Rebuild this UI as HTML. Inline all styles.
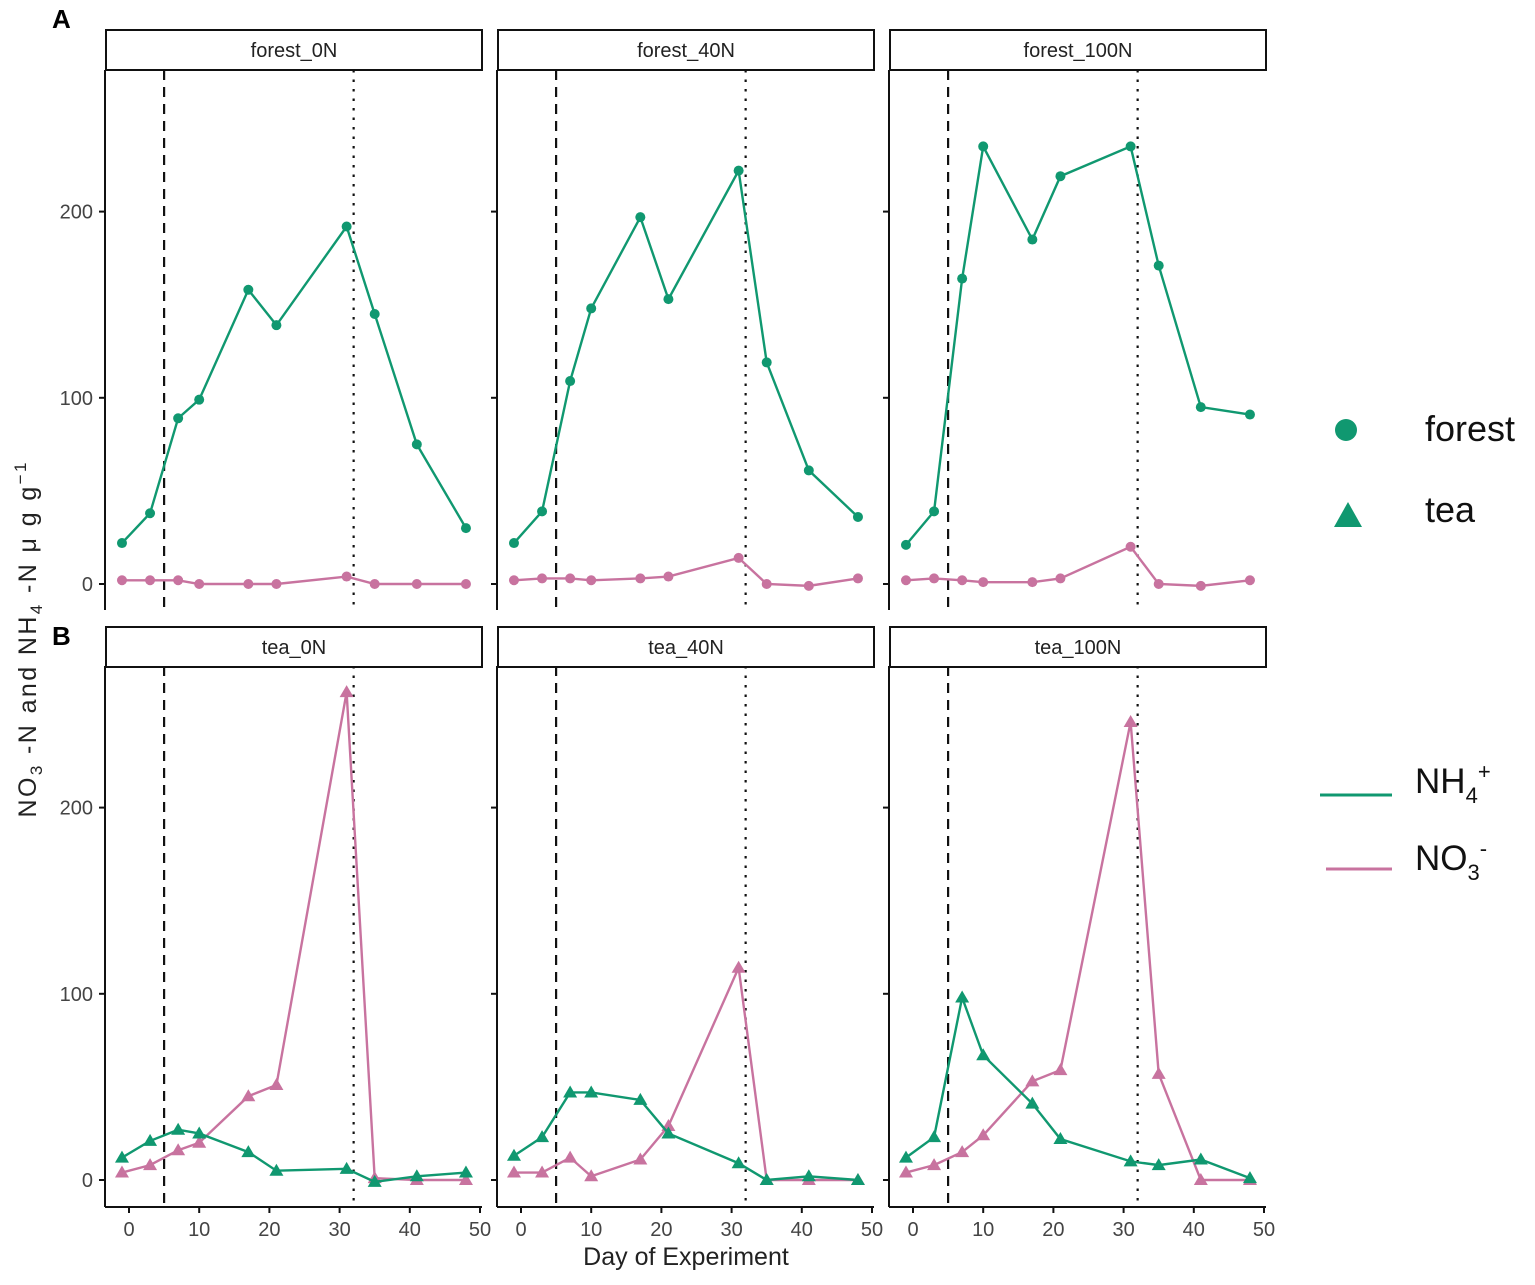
<!DOCTYPE html>
<html><head><meta charset="utf-8"><style>
body{margin:0;background:#fff}
svg{font-family:"Liberation Sans",Arial,sans-serif}
</style></head><body>
<svg id="s" width="1535" height="1280" xmlns="http://www.w3.org/2000/svg">
<rect width="1535" height="1280" fill="#fff"/>
<text x="52" y="28" font-size="26" font-weight="bold">A</text>
<text x="52" y="645" font-size="26" font-weight="bold">B</text>
<text x="686" y="1265" font-size="25" text-anchor="middle" fill="#222">Day of Experiment</text>
<g transform="translate(36,640) rotate(-90)" font-size="25" fill="#222">
<text text-anchor="middle" textLength="355" lengthAdjust="spacing">NO<tspan font-size="17" dy="6">3</tspan><tspan dy="-6"> -N and  NH</tspan><tspan font-size="17" dy="6">4</tspan><tspan dy="-6"> -N   μ g  g</tspan><tspan font-size="17" dy="-10">−1</tspan></text>
</g>
<circle cx="1346" cy="430" r="11" fill="#109870"/>
<text x="1425" y="441" font-size="36" fill="#111">forest</text>
<polygon points="1348,502 1334,527 1362,527" fill="#109870"/>
<text x="1425" y="522" font-size="36" fill="#111">tea</text>
<line x1="1320" y1="795" x2="1392" y2="795" stroke="#109870" stroke-width="3"/>
<text x="1415" y="793" font-size="35" fill="#111">NH<tspan font-size="22" dy="10">4</tspan><tspan font-size="22" dy="-24">+</tspan></text>
<line x1="1326" y1="869" x2="1392" y2="869" stroke="#c8739f" stroke-width="3"/>
<text x="1415" y="870" font-size="35" fill="#111">NO<tspan font-size="22" dy="10">3</tspan><tspan font-size="22" dy="-24">-</tspan></text>
<g id="g"></g>
</svg>
<script>
const G=document.getElementById('g');let h='';
const days=[-1,3,7,10,17,21,31,35,41,48];
const GR='#109870',PK='#c8739f';
const data=[
 ['forest_0N',[22,38,89,99,158,139,192,145,75,30],[2,2,2,0,0,0,4,0,0,0]],
 ['forest_40N',[22,39,109,148,197,153,222,119,61,36],[2,3,3,2,3,4,14,0,-1,3]],
 ['forest_100N',[21,39,164,235,185,219,235,171,95,91],[2,3,2,1,1,3,20,0,-1,2]],
 ['tea_0N',[12,21,27,25,15,5,6,-1,2,4],[4,8,16,20,45,51,262,1,0,0]],
 ['tea_40N',[13,23,47,47,43,25,9,0,2,0],[4,4,12,2,11,29,114,0,0,0]],
 ['tea_100N',[12,23,98,67,41,22,10,8,11,1],[4,8,15,24,53,59,246,57,0,0]]];
data.forEach((d,i)=>{
 const col=i%3,row=Math.floor(i/3),off=col*392;
 const stripY=row?627:30, top=row?666:70, bot=row?1207:610, y0=row?1180:584, k=1.862;
 const X=t=>129+off+t*7.02, Y=v=>y0-v*k;
 h+=`<rect x="${106+off}" y="${stripY}" width="376" height="40" fill="#fff" stroke="#111" stroke-width="2"/>`;
 h+=`<text x="${294+off}" y="${stripY+27}" font-size="20" text-anchor="middle" fill="#222">${d[0]}</text>`;
 h+=`<line x1="${105+off}" y1="${top}" x2="${105+off}" y2="${bot}" stroke="#111" stroke-width="2"/>`;
 if(col==0){[0,100,200].forEach(v=>{h+=`<line x1="99" x2="105" y1="${Y(v)}" y2="${Y(v)}" stroke="#111" stroke-width="2"/><text x="93" y="${Y(v)+7}" font-size="20" text-anchor="end" fill="#444">${v}</text>`;});}
 else {[0,100,200].forEach(v=>{h+=`<line x1="${99+off}" x2="${105+off}" y1="${Y(v)}" y2="${Y(v)}" stroke="#111" stroke-width="2"/>`;});}
 if(row==1){h+=`<line x1="${105+off}" y1="${bot}" x2="${482+off}" y2="${bot}" stroke="#111" stroke-width="2"/>`;
  [0,10,20,30,40,50].forEach(t=>{h+=`<line x1="${X(t)}" x2="${X(t)}" y1="${bot}" y2="${bot+6}" stroke="#111" stroke-width="2"/><text x="${X(t)}" y="${bot+29}" font-size="20" text-anchor="middle" fill="#444">${t}</text>`;});}
 h+=`<line x1="${X(5)}" x2="${X(5)}" y1="${top}" y2="${bot}" stroke="#111" stroke-width="2.2" stroke-dasharray="10,7"/>`;
 h+=`<line x1="${X(32)}" x2="${X(32)}" y1="${top}" y2="${bot}" stroke="#111" stroke-width="2.2" stroke-dasharray="2.5,7"/>`;
 [[d[2],PK],[d[1],GR]].forEach(([vals,c])=>{
  h+=`<polyline fill="none" stroke="${c}" stroke-width="2.4" points="${vals.map((v,j)=>X(days[j])+','+Y(v)).join(' ')}"/>`;
  vals.forEach((v,j)=>{const x=X(days[j]),y=Y(v);
   if(row==0)h+=`<circle cx="${x}" cy="${y}" r="5" fill="${c}"/>`;
   else h+=`<polygon points="${x},${y-7} ${x-7},${y+5} ${x+7},${y+5}" fill="${c}"/>`;});
 });
});
G.innerHTML=h;
</script>
</body></html>
